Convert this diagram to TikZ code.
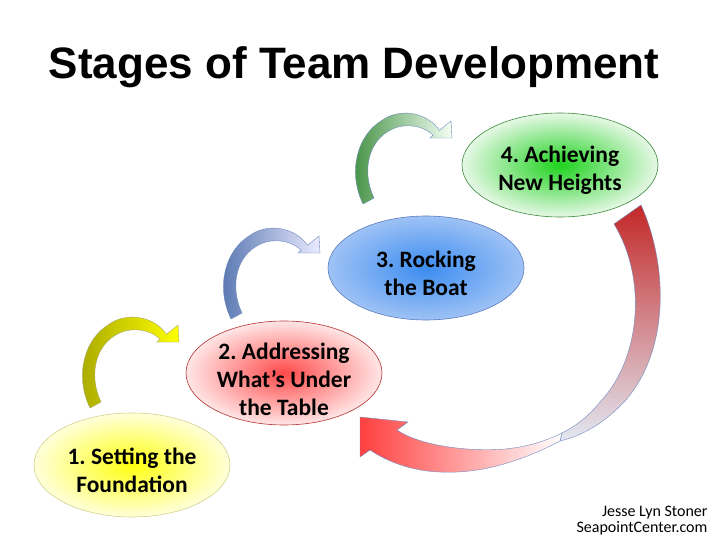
\documentclass[tikz,border=0pt]{standalone}
\usepackage{fontspec}
\setmainfont{Carlito}
\newfontfamily\headfont{Liberation Sans}
\usetikzlibrary{shapes.geometric}
\frenchspacing

\definecolor{yellowcore}{HTML}{FFFF10}
\definecolor{yellowrim}{HTML}{FFFFDA}
\definecolor{yellowline}{HTML}{D6D28A}
\definecolor{redcore}{HTML}{FF4A4A}
\definecolor{redrim}{HTML}{FFE6E6}
\definecolor{redline}{HTML}{B43232}
\definecolor{bluecore}{HTML}{3C8CF0}
\definecolor{bluerim}{HTML}{9EC2F5}
\definecolor{blueline}{HTML}{5A7EC0}
\definecolor{greencore}{HTML}{1ED21E}
\definecolor{greenrim}{HTML}{E6F8E6}
\definecolor{greenline}{HTML}{3C8C3C}
\definecolor{arrowline}{HTML}{6F8CC0}

\begin{document}
\begin{tikzpicture}[
  x=1pt, y=-1pt,
  stage/.style={ellipse, minimum width=196pt, minimum height=104pt, inner sep=0pt, line width=0.6pt},
  stagetext/.style={align=center, font=\bfseries\fontsize{23.5}{28}\selectfont},
  headline/.style={font=\headfont\bfseries\fontsize{44}{50}\selectfont, anchor=base},
  credit/.style={align=right, anchor=north east, font=\fontsize{16}{15.5}\selectfont},
  flow/.style={draw=arrowline, line width=0.4pt},
  turnarrow/.pic={
    \path[pic actions] (-5,3) -- (6,-3)
      .. controls (-7,-30) and (0,-65) .. (30,-74)
      .. controls (45,-78) and (60,-72) .. (65,-65.5)
      -- (62,-63) -- (84,-63) -- (83,-80) -- (71.5,-70.7)
      .. controls (58,-90) and (30,-93) .. (13,-80)
      .. controls (-10,-66) and (-21,-30) .. (-5,3) -- cycle;
  }]

\useasboundingbox[fill=white] (0,0) rectangle (720,540);

% Title
\node[headline] (title) at (354,79) {Stages of Team Development};

% The four stages
\node[stage, draw=yellowline, inner color=yellowcore, outer color=yellowrim] (setting) at (132,465) {};
\node[stage, draw=redline, inner color=redcore, outer color=redrim] (addressing) at (284,373) {};
\node[stage, draw=blueline, inner color=bluecore, outer color=bluerim] (rocking) at (426,268) {};
\node[stage, draw=greenline, inner color=greencore, outer color=greenrim] (achieving) at (560,165) {};

\node[stagetext] (settinglabel) at ([yshift=-5pt]setting.center) {1. Setting the\\Foundation};
\node[stagetext] (addressinglabel) at ([yshift=-6pt]addressing.center) {2. Addressing\\What’s Under\\the Table};
\node[stagetext] (rockinglabel) at ([yshift=-5pt]rocking.center) {3. Rocking\\the Boat};
\node[stagetext] (achievinglabel) at ([yshift=-5pt]achieving.center) {4. Achieving\\New Heights};

% Curved arrows from one stage up to the next
\pic[draw=yellowline!80!black, line width=0.4pt, left color=olive!70!yellow, middle color=yellow, right color=yellow] at (95,405) {turnarrow};
\pic[flow, left color=blueline!90!black, middle color=bluecore!60!bluerim, right color=blue!8] at (236,316) {turnarrow};
\pic[flow, left color=greenline, middle color=greenline!60!white, right color=green!4!white] at (368,201) {turnarrow};

% Big arrow back from stage 4 to stage 2
\path[flow, top color=redline!80!red, bottom color=arrowline!20!white] (614,224) -- (641,205)
  .. controls (668,265) and (670,350) .. (625,401)
  .. controls (605,422) and (585,435) .. (560,441)
  -- (562,433)
  .. controls (580,424) and (592,412) .. (600,402)
  .. controls (640,360) and (648,280) .. (614,224) -- cycle;
\path[flow, left color=red!75!white, right color=white] (560,441)
  .. controls (520,462) and (480,474) .. (440,472)
  .. controls (412,471) and (388,462) .. (370,450)
  -- (360,457) -- (360,417) -- (408,422) -- (397,430)
  .. controls (420,446) and (470,452) .. (505,449)
  .. controls (528,447) and (548,440) .. (562,433) -- cycle;

% Credit
\node[credit] (credit) at (711,503) {Jesse Lyn Stoner\\SeapointCenter.com};

\end{tikzpicture}
\end{document}
